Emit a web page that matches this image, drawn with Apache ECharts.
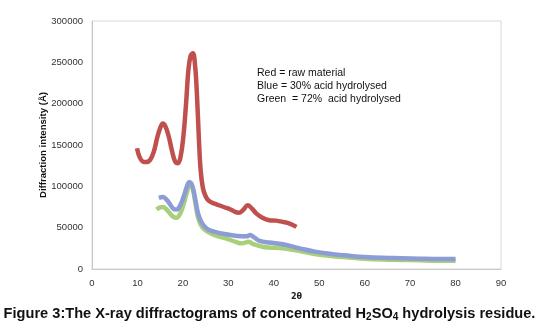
<!DOCTYPE html>
<html lang="en">
	<head>
		<meta charset="UTF-8">
		<script src="https://cdn.jsdelivr.net/npm/echarts@6/dist/echarts.min.js" type="text/javascript" charset="utf-8"></script>
		<title>XRD</title>
		<style>
			body { margin: 0; background: #fff; }
			#main { width: 539px; height: 326px; }
		</style>
	</head>
	<body>
		<div id="main"></div>
		<script type="text/javascript">
			// 2θ / intensity
			var rawX = [9.9, 10.5, 11.2, 12, 12.8, 13.6, 14.4, 15.1, 15.6, 16.2, 16.9, 17.6, 18.3, 18.9, 19.5, 20.1, 20.7, 21.2, 21.7, 22.2, 22.7, 23.1, 23.5, 23.9, 24.4, 25, 25.6, 26.5, 27.5, 29, 30.5, 31.5, 32.3, 33.2, 34.3, 35.2, 36.2, 37.5, 39, 40.5, 42, 43.5, 45];
			var rawY = [146000, 135000, 130000, 129500, 132000, 142000, 160000, 172000, 176000, 172000, 160000, 143000, 130000, 128000, 136000, 160000, 200000, 240000, 258000, 261000, 245000, 210000, 160000, 120000, 98000, 88000, 83000, 80000, 78000, 75000, 72000, 69000, 68000, 71000, 77000, 73000, 67000, 62000, 59000, 58500, 57000, 55000, 51000];

			var blueX = [14.7, 15.6, 16.4, 17.2, 17.9, 18.6, 19.4, 20.2, 20.9, 21.4, 21.8, 22.3, 22.8, 23.3, 23.8, 24.5, 25.5, 27, 29.5, 32, 34, 34.8, 35.6, 36.9, 39, 42, 45.7, 49, 53, 56.6, 60, 64, 68, 72, 76, 80];
			var blueY = [86000, 87000, 84000, 78000, 73000, 72000, 77000, 88000, 100000, 105000, 104000, 96000, 82000, 68000, 60000, 53000, 48000, 45000, 42000, 40000, 39500, 41000, 38500, 34000, 32000, 30000, 25000, 21000, 18000, 16000, 14500, 13500, 13000, 12500, 12000, 12000];

			var greenX = [14.2, 15, 15.6, 16.4, 17.2, 17.9, 18.6, 19.4, 20.2, 20.9, 21.4, 21.8, 22.3, 22.8, 23.3, 23.8, 24.5, 25.5, 27, 29.5, 31.5, 33, 34.5, 35.5, 37.5, 39, 42, 45.5, 49, 53, 56.6, 60, 64, 68, 72, 76, 80];
			var greenY = [72000, 74500, 75000, 72000, 67000, 63000, 62000, 67000, 79000, 93000, 101000, 102000, 94000, 78000, 63000, 55000, 49000, 45000, 41000, 37000, 33000, 31000, 33000, 30000, 27000, 26000, 25000, 22000, 18000, 15500, 14000, 12500, 11500, 11000, 10500, 10000, 10000];

			var yTicks = [0, 50000, 100000, 150000, 200000, 250000, 300000];
			var noteLines = ['Red = raw material', 'Blue = 30% acid hydrolysed', 'Green  = 72%  acid hydrolysed'];

			function pairs(xs, ys) {
				var out = [];
				for (var i = 0; i < xs.length; i++) {
					out.push([xs[i], ys[i]]);
				}
				return out;
			}

			function makeSeries(name, xs, ys, color) {
				return {
					name: name,
					type: 'line',
					data: pairs(xs, ys),
					smooth: 0.4,
					showSymbol: false,
					lineStyle: { color: color, width: 4.5 },
					itemStyle: { color: color },
					z: 2
				};
			}

			var myChart = echarts.init(document.getElementById('main'));
			var option = {
				animation: false,
				title: {
					text: 'Figure 3:The X-ray diffractograms of concentrated H{sub|2}SO{sub|4} hydrolysis residue.',
					left: 'center',
					top: 301,
					textStyle: {
						fontFamily: 'Liberation Sans, Arial',
						fontSize: 14.6,
						fontWeight: 'bold',
						color: '#111',
						rich: {
							sub: { fontSize: 10, fontWeight: 'bold', color: '#111', verticalAlign: 'bottom', padding: [6, 0, 0, 0], fontFamily: 'Liberation Sans, Arial' }
						}
					}
				},
				graphic: [{
					type: 'text',
					left: 257,
					top: 67,
					style: {
						text: noteLines.join('\n'),
						font: '10.5px "Liberation Sans", Arial',
						lineHeight: 13,
						fill: '#111'
					}
				}],
				grid: {
					left: 92,
					right: 38,
					top: 21,
					bottom: 57,
					show: true,
					borderColor: '#d9d9d9',
					borderWidth: 1
				},
				xAxis: {
					type: 'value',
					min: 0,
					max: 90,
					interval: 10,
					name: '2θ',
					nameLocation: 'middle',
					nameGap: 22,
					nameTextStyle: { fontFamily: 'DejaVu Sans', fontSize: 8, fontWeight: 'bold', color: '#222' },
					axisLine: { lineStyle: { color: '#c8c8c8' } },
					axisTick: { show: false },
					splitLine: { show: false },
					axisLabel: { fontFamily: 'Liberation Sans, Arial', fontSize: 9.5, color: '#333', margin: 9 }
				},
				yAxis: {
					type: 'value',
					min: 0,
					max: 300000,
					interval: 50000,
					name: 'Diffraction intensity (Å)',
					nameLocation: 'middle',
					nameGap: 44,
					nameMoveOverlap: false,
					nameTextStyle: { fontFamily: 'Liberation Sans, Arial', fontSize: 9.6, fontWeight: 'bold', color: '#111' },
					axisLine: { show: true, lineStyle: { color: '#c8c8c8' } },
					axisTick: { show: false },
					splitLine: { show: false },
					axisLabel: {
						fontFamily: 'Liberation Sans, Arial',
						fontSize: 9.5,
						color: '#333',
						margin: 9,
						formatter: function (v) {
							return yTicks.indexOf(v) >= 0 ? String(v) : '';
						}
					}
				},
				series: [
					makeSeries('Green', greenX, greenY, '#a8d07a'),
					makeSeries('Blue', blueX, blueY, '#8c9cd4'),
					makeSeries('Red', rawX, rawY, '#c0504d')
				]
			};
			myChart.setOption(option);
		</script>
	</body>
</html>
